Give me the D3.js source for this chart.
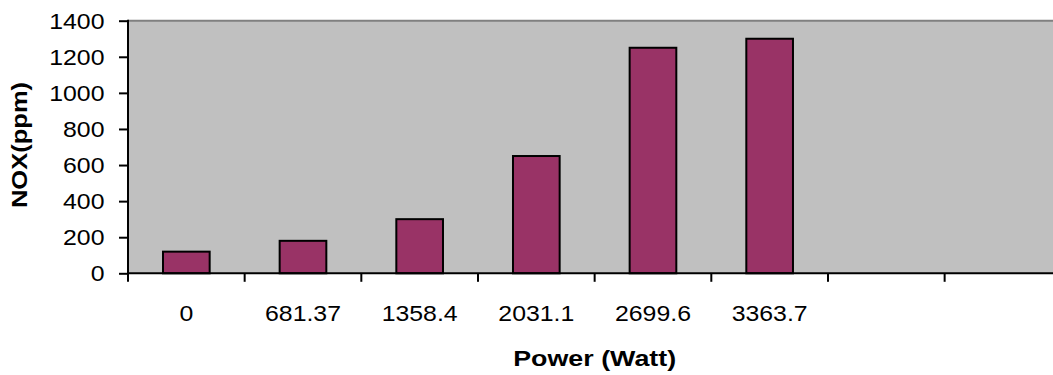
<!DOCTYPE html>
<html>
<head>
<meta charset="utf-8">
<script src="https://cdn.jsdelivr.net/npm/d3@7"></script>
<style>
  html, body { margin: 0; padding: 0; background: #ffffff; }
  svg { display: block; }
  text { font-family: "Liberation Sans", Arial, sans-serif; fill: #000; }
</style>
</head>
<body>
<script>
// NOx concentration versus power, one bar per power level
const categories = ["0", "681.37", "1358.4", "2031.1", "2699.6", "3363.7", "", ""];
const noxValues = [120, 180, 300, 650, 1250, 1300, null, null];
const yTicks = [0, 200, 400, 600, 800, 1000, 1200, 1400];
const xTitle = "Power (Watt)";
const yTitle = "NOX(ppm)";

const W = 1053, H = 375;
const plot = { left: 128, top: 20.7, right: 1061.3, bottom: 273.3 };
const fontSize = 22;
const stretch = 1.13;      // wide glyphs for tick labels
const titleStretchX = 1.22;
const titleStretchY = 1.16;

const svg = d3.select("body").append("svg")
  .attr("width", W).attr("height", H);

const x = d3.scaleBand()
  .domain(d3.range(categories.length))
  .range([plot.left, plot.right])
  .paddingInner(0.6)
  .paddingOuter(0.3);

const y = d3.scaleLinear()
  .domain([0, 1400])
  .range([plot.bottom, plot.top]);

// plot area
svg.append("rect")
  .attr("x", plot.left).attr("y", plot.top)
  .attr("width", plot.right - plot.left).attr("height", plot.bottom - plot.top)
  .attr("fill", "#c0c0c0");

svg.append("line")
  .attr("x1", plot.left).attr("x2", plot.right)
  .attr("y1", plot.top).attr("y2", plot.top)
  .attr("stroke", "#808080").attr("stroke-width", 2);

// bars
svg.append("g").selectAll("rect")
  .data(noxValues.map((v, i) => ({ i, v })).filter(d => d.v != null))
  .join("rect")
  .attr("x", d => x(d.i))
  .attr("y", d => y(d.v))
  .attr("width", x.bandwidth())
  .attr("height", d => y(0) - y(d.v))
  .attr("fill", "#993366")
  .attr("stroke", "#000")
  .attr("stroke-width", 2);

// y axis
const yAxis = d3.axisLeft(y).tickValues(yTicks).tickSize(9).tickFormat("");
const gy = svg.append("g").attr("transform", `translate(${plot.left},0)`).call(yAxis);
gy.select(".domain").remove();
gy.selectAll(".tick line").attr("stroke", "#000").attr("stroke-width", 2);
svg.append("line")
  .attr("x1", plot.left).attr("x2", plot.left)
  .attr("y1", plot.top - 1).attr("y2", plot.bottom + 1)
  .attr("stroke", "#000").attr("stroke-width", 2);

svg.append("g").selectAll("text")
  .data(yTicks)
  .join("text")
  .attr("transform", d => `translate(104.5,${y(d)}) scale(${stretch},1)`)
  .attr("text-anchor", "end")
  .attr("dy", "0.36em")
  .attr("font-size", fontSize)
  .text(d => d);

// x axis: ticks sit on category boundaries
const boundaries = d3.range(categories.length + 1).map(i => plot.left + i * x.step());
svg.append("g").selectAll("line")
  .data(boundaries)
  .join("line")
  .attr("x1", d => d).attr("x2", d => d)
  .attr("y1", plot.bottom).attr("y2", plot.bottom + 8.5)
  .attr("stroke", "#000").attr("stroke-width", 2);
svg.append("line")
  .attr("x1", plot.left - 1).attr("x2", plot.right)
  .attr("y1", plot.bottom).attr("y2", plot.bottom)
  .attr("stroke", "#000").attr("stroke-width", 2);

svg.append("g").selectAll("text")
  .data(categories.map((c, i) => ({ c, i })))
  .join("text")
  .attr("transform", d => `translate(${x(d.i) + x.bandwidth() / 2},320.5) scale(${stretch},1)`)
  .attr("text-anchor", "middle")
  .attr("font-size", fontSize)
  .text(d => d.c);

// axis titles
svg.append("text")
  .attr("transform", `translate(${(plot.left + plot.right) / 2},365.5) scale(${titleStretchX},1)`)
  .attr("text-anchor", "middle")
  .attr("font-size", fontSize)
  .attr("font-weight", "bold")
  .text(xTitle);

svg.append("text")
  .attr("transform", `translate(27,145) rotate(-90) scale(${titleStretchY},1)`)
  .attr("text-anchor", "middle")
  .attr("font-size", fontSize)
  .attr("font-weight", "bold")
  .text(yTitle);
</script>
</body>
</html>
